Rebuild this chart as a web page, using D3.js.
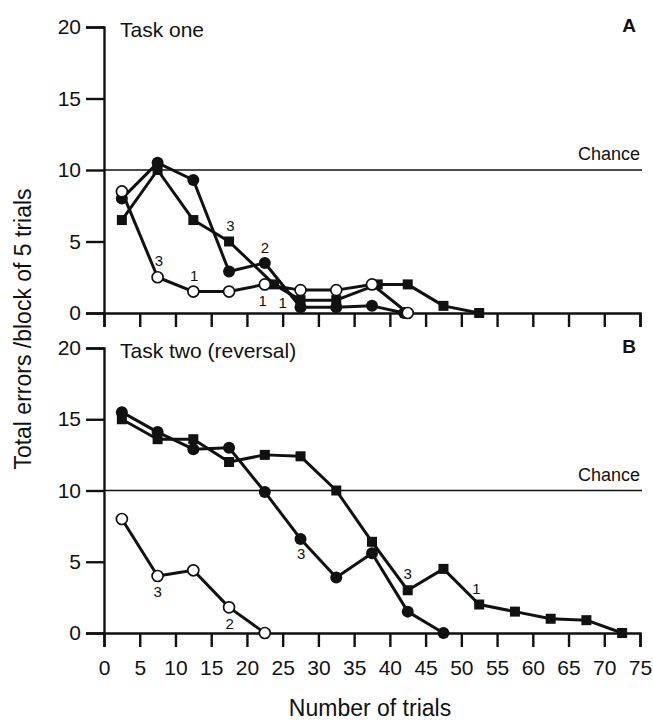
<!DOCTYPE html>
<html>
<head>
<meta charset="utf-8">
<script src="https://d3js.org/d3.v7.min.js"></script>
<style>
  body { margin: 0; background: #fff; }
  svg text { font-family: "Liberation Sans", Arial, sans-serif; fill: #111; }
</style>
</head>
<body>
<svg id="chart" width="653" height="724"></svg>
<script>
/* data; x = block midpoint (trials) */

var xTicks = [0, 5, 10, 15, 20, 25, 30, 35, 40, 45, 50, 55, 60, 65, 70, 75];
var yTicks = [0, 5, 10, 15, 20];
var chanceLevel = 10;

// panel A - task one
var a_open_x = [2.5, 7.5, 12.5, 17.5, 22.5, 27.5, 32.5, 37.5, 42.5];
var a_open_y = [8.5, 2.5, 1.5, 1.5, 2.0, 1.6, 1.6, 2.0, 0];
var a_dot_x = [2.5, 7.5, 12.5, 17.5, 22.5, 27.5, 32.5, 37.5, 42];
var a_dot_y = [8.0, 10.5, 9.3, 2.9, 3.5, 0.4, 0.4, 0.5, 0];
var a_sq_x = [2.5, 7.5, 12.5, 17.5, 23.8, 27.5, 32.5, 38.3, 42.5, 47.5, 52.5];
var a_sq_y = [6.5, 10.0, 6.5, 5.0, 2.0, 0.9, 0.9, 2.0, 2.0, 0.5, 0];
var a_note_txt = ["3", "1", "3", "2", "1", "1"];
var a_note_x = [7.7, 12.6, 17.7, 22.5, 22.2, 25.0];
var a_note_y = [3.7, 2.6, 6.15, 4.6, 0.9, 0.7];

// panel B - task two (reversal)
var b_open_x = [2.5, 7.5, 12.5, 17.5, 22.5];
var b_open_y = [8.0, 4.0, 4.4, 1.8, 0];
var b_dot_x = [2.5, 7.5, 12.5, 17.5, 22.5, 27.5, 32.5, 37.5, 42.5, 47.5];
var b_dot_y = [15.5, 14.1, 12.9, 13.0, 9.9, 6.6, 3.9, 5.6, 1.5, 0];
var b_sq_x = [2.5, 7.5, 12.5, 17.5, 22.5, 27.5, 32.5, 37.5, 42.5, 47.5, 52.5, 57.5, 62.5, 67.5, 72.5];
var b_sq_y = [15.0, 13.6, 13.6, 12.0, 12.5, 12.4, 10.0, 6.4, 3.0, 4.5, 2.0, 1.5, 1.0, 0.9, 0];
var b_note_txt = ["3", "2", "3", "3", "1"];
var b_note_x = [7.5, 17.6, 27.6, 42.5, 52.1];
var b_note_y = [2.9, 0.7, 5.6, 4.2, 3.1];

var svg = d3.select("#chart");

function zip(xs, ys) {
  return xs.map(function(d, i) { return {x: d, y: ys[i]}; });
}

function draw_panel(p) {
  var x = d3.scaleLinear().domain([0, 75]).range([104, 640]);
  var y = d3.scaleLinear().domain([0, 20]).range([p.bottom, p.top]);
  var g = svg.append("g");

  // chance line
  g.append("line")
    .attr("x1", x(0)).attr("x2", 642)
    .attr("y1", y(chanceLevel)).attr("y2", y(chanceLevel))
    .attr("stroke", "#111").attr("stroke-width", 1.3);
  g.append("text")
    .attr("x", 640).attr("y", y(chanceLevel) - 10)
    .attr("text-anchor", "end")
    .style("font-size", "18px")
    .text("Chance");

  var yAxis = g.append("g")
    .attr("transform", "translate(" + x(0) + ",0)")
    .call(d3.axisLeft(y).tickValues(yTicks).tickSize(18).tickPadding(5));
  var xAxis = g.append("g")
    .attr("transform", "translate(0," + y(0) + ")")
    .call(d3.axisBottom(x).tickValues(xTicks).tickSize(14).tickPadding(13)
      .tickFormat(p.xLabels ? d3.format("d") : ""));
  [yAxis, xAxis].forEach(function(a) {
    a.selectAll("path, line").attr("stroke", "#111").attr("stroke-width", 2.4);
    a.selectAll("text").style("font-size", "21px").attr("fill", "#111")
      .style("font-family", "'Liberation Sans', Arial, sans-serif");
  });

  var line = d3.line().x(function(d) { return x(d.x); }).y(function(d) { return y(d.y); });
  var sq = zip(p.sqX, p.sqY), dots = zip(p.dotX, p.dotY), open = zip(p.openX, p.openY);
  [sq, dots, open].forEach(function(s) {
    g.append("path").datum(s).attr("d", line)
      .attr("fill", "none").attr("stroke", "#111").attr("stroke-width", 3)
      .attr("stroke-linejoin", "round");
  });

  g.selectAll(".sq").data(sq).enter().append("rect")
    .attr("x", function(d) { return x(d.x) - 5; })
    .attr("y", function(d) { return y(d.y) - 5; })
    .attr("width", 10).attr("height", 10).attr("fill", "#111");
  g.selectAll(".dot").data(dots).enter().append("circle")
    .attr("cx", function(d) { return x(d.x); })
    .attr("cy", function(d) { return y(d.y); })
    .attr("r", 6).attr("fill", "#111");
  g.selectAll(".open").data(open).enter().append("circle")
    .attr("cx", function(d) { return x(d.x); })
    .attr("cy", function(d) { return y(d.y); })
    .attr("r", 5.5).attr("fill", "#fff").attr("stroke", "#111").attr("stroke-width", 1.7);

  // small run-number annotations
  g.selectAll(".note").data(p.notes).enter().append("text")
    .attr("x", function(d) { return x(d.x); })
    .attr("y", function(d) { return y(d.y); })
    .attr("text-anchor", "middle").attr("dominant-baseline", "central")
    .style("font-size", "15px")
    .text(function(d) { return d.t; });

  g.append("text")
    .attr("x", 120).attr("y", p.top + 10)
    .style("font-size", "21px")
    .text(p.title);
  g.append("text")
    .attr("x", 636).attr("y", p.top + 5)
    .attr("text-anchor", "end")
    .style("font-size", "19px").style("font-weight", "bold")
    .text(p.letter);
}

function notes(t, xs, ys) {
  return t.map(function(d, i) { return {t: d, x: xs[i], y: ys[i]}; });
}

draw_panel({top: 27, bottom: 313, title: "Task one", letter: "A", xLabels: false,
  openX: a_open_x, openY: a_open_y, dotX: a_dot_x, dotY: a_dot_y, sqX: a_sq_x, sqY: a_sq_y,
  notes: notes(a_note_txt, a_note_x, a_note_y)});
draw_panel({top: 348, bottom: 633, title: "Task two (reversal)", letter: "B", xLabels: true,
  openX: b_open_x, openY: b_open_y, dotX: b_dot_x, dotY: b_dot_y, sqX: b_sq_x, sqY: b_sq_y,
  notes: notes(b_note_txt, b_note_x, b_note_y)});

svg.append("text")
  .attr("transform", "translate(31,329) rotate(-90)")
  .attr("text-anchor", "middle")
  .style("font-size", "23px")
  .text("Total errors /block of 5 trials");

svg.append("text")
  .attr("x", 370).attr("y", 716)
  .attr("text-anchor", "middle")
  .style("font-size", "23px")
  .text("Number of trials");
</script>
</body>
</html>
